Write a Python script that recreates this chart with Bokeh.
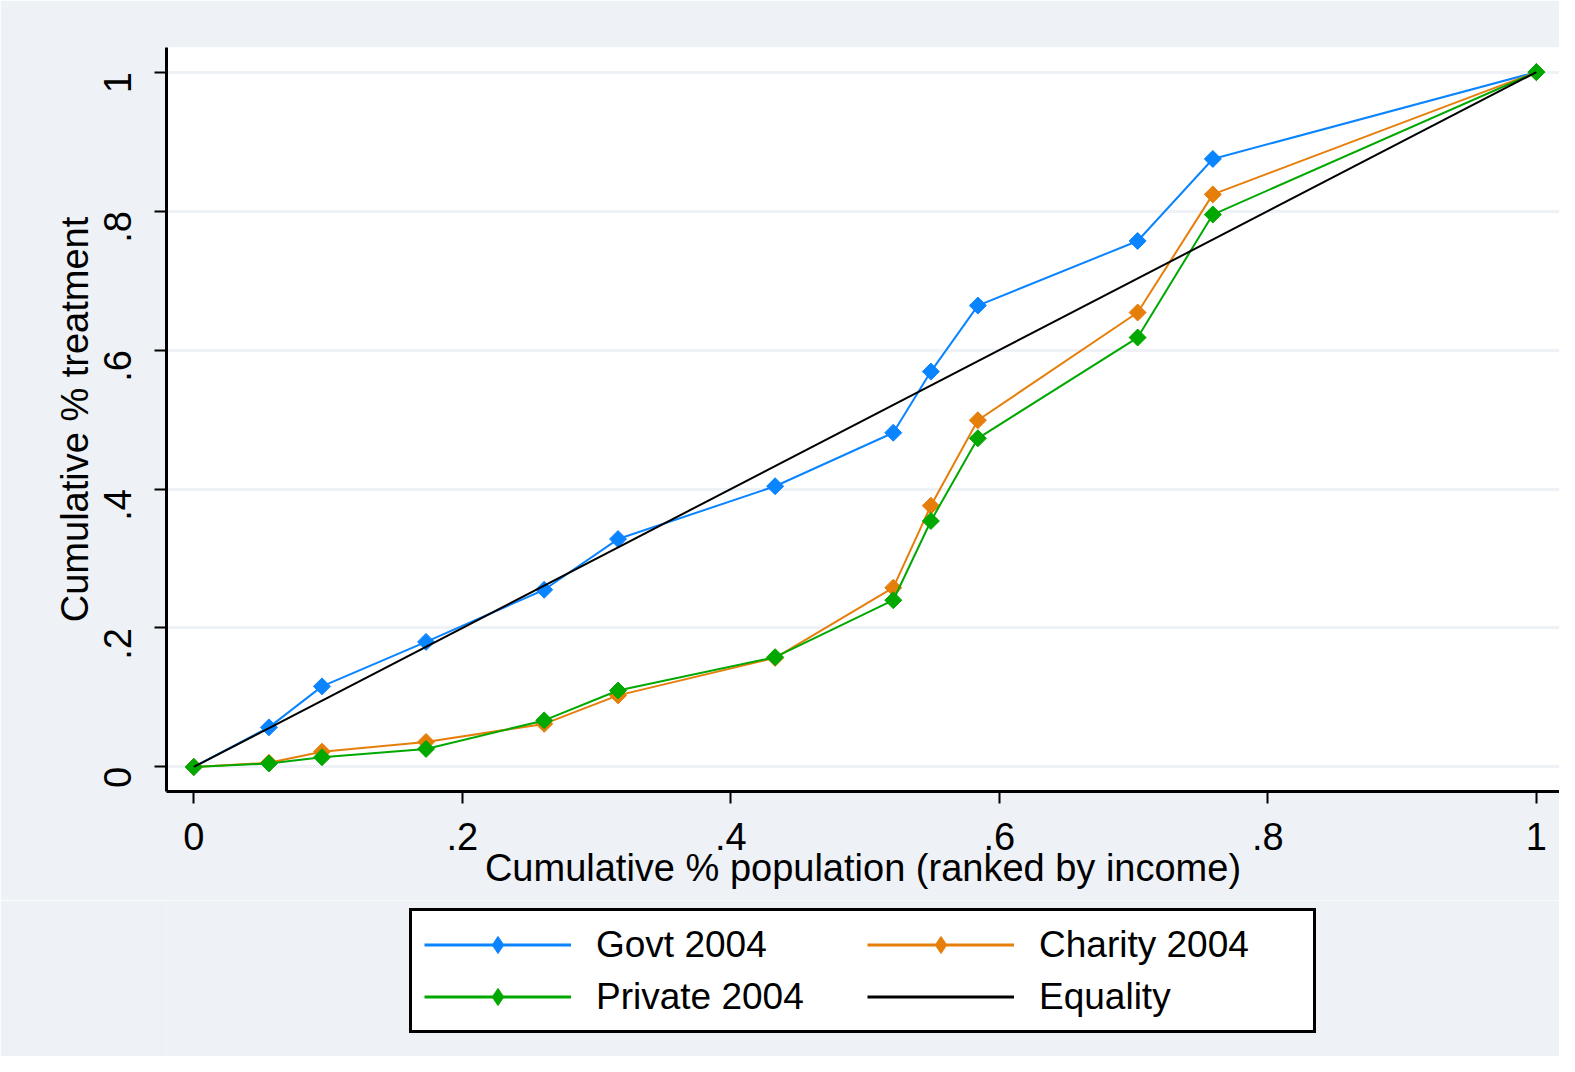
import math
from bokeh.plotting import figure
from bokeh.layouts import column
from bokeh.models import Legend, LegendItem, Range1d, FixedTicker
from bokeh.embed import file_html
from bokeh.resources import INLINE

# ---- data ----
pop_share = [0, 0.056, 0.0955, 0.173, 0.261, 0.316, 0.433, 0.521, 0.549, 0.584, 0.703, 0.759, 1.0]
govt_2004 = [0, 0.057, 0.116, 0.180, 0.255, 0.328, 0.404, 0.481, 0.569, 0.664, 0.757, 0.875, 1.0]
charity_2004 = [0, 0.006, 0.022, 0.036, 0.062, 0.103, 0.157, 0.258, 0.376, 0.499, 0.654, 0.824, 1.0]
private_2004 = [0, 0.005, 0.014, 0.026, 0.067, 0.110, 0.158, 0.240, 0.354, 0.473, 0.618, 0.795, 1.0]
equality_x = [0, 1]
equality_y = [0, 1]

tick_values = [0, 0.2, 0.4, 0.6, 0.8, 1]
tick_labels = ["0", ".2", ".4", ".6", ".8", "1"]

series_names = ["Govt 2004", "Charity 2004", "Private 2004", "Equality"]
series_colors = ["#0A84FF", "#E67E0A", "#00A800", "#000000"]

BG = "#EEF1F6"
FONT = "Liberation Sans"

# ---------------- main plot ----------------
p = figure(width=1559, height=900, output_backend="svg", toolbar_location=None,
           x_range=Range1d(-0.0203, 1.0172), y_range=Range1d(-0.0353, 1.0354),
           background_fill_color="white", border_fill_color=BG,
           min_border_left=166, min_border_top=47, min_border_right=0, min_border_bottom=109)
p.outline_line_color = None

for ax in (p.xaxis[0], p.yaxis[0]):
    ax.ticker = FixedTicker(ticks=tick_values)
    ax.major_label_overrides = dict(zip(tick_values, tick_labels))
    ax.minor_tick_line_color = None
    ax.axis_line_width = 3
    ax.axis_line_color = "black"
    ax.major_tick_line_width = 2
    ax.major_tick_in = 0
    ax.major_tick_out = 12
    ax.major_label_text_font = FONT
    ax.major_label_text_font_size = "38px"
    ax.major_label_text_color = "black"
    ax.axis_label_text_font = FONT
    ax.axis_label_text_font_size = "38px"
    ax.axis_label_text_font_style = "normal"
    ax.axis_label_text_color = "black"

p.xaxis.axis_label = "Cumulative % population (ranked by income)"
p.yaxis.axis_label = "Cumulative % treatment"
p.xaxis.major_label_standoff = 19
p.xaxis.axis_label_standoff = -6
p.yaxis.major_label_orientation = math.pi / 2
p.yaxis.major_label_standoff = 37
p.yaxis.axis_label_standoff = -8

p.xgrid.grid_line_color = None
p.ygrid.grid_line_color = BG
p.ygrid.grid_line_width = 3
p.ygrid.ticker = FixedTicker(ticks=tick_values)

series_values = [govt_2004, charity_2004, private_2004]
for col, ys in zip(series_colors[:3], series_values):
    p.line(pop_share, ys, line_color=col, line_width=2)
    p.scatter(pop_share, ys, marker="square", angle=math.pi / 4, size=12,
              fill_color=col, line_color=col)
p.line(equality_x, equality_y, line_color=series_colors[3], line_width=2)

# ---------------- legend strip ----------------
# the same series are attached here only so the legend can draw their keys;
# the ranges lie outside the data, so nothing shows in this strip itself
lg = figure(width=1559, height=156, output_backend="svg", toolbar_location=None,
            x_range=Range1d(5, 6), y_range=Range1d(5, 6),
            background_fill_color=BG, border_fill_color=BG,
            min_border_left=0, min_border_right=0, min_border_top=0, min_border_bottom=0)
lg.axis.visible = False
lg.grid.visible = False
lg.outline_line_color = None

items = {}
for name, col, ys in zip(series_names[:3], series_colors[:3], series_values):
    ln = lg.line(pop_share, ys, line_color=col, line_width=3)
    sc = lg.scatter(pop_share, ys, marker="diamond", size=20, fill_color=col, line_color=col)
    items[name] = LegendItem(label=name, renderers=[ln, sc])
eq = lg.line(equality_x, equality_y, line_color=series_colors[3], line_width=3)
items[series_names[3]] = LegendItem(label=series_names[3], renderers=[eq])

legend = Legend(items=[items[n] for n in series_names], ncols=2, orientation="horizontal",
                location=(243, 23),
                label_text_font=FONT, label_text_font_size="37px", label_text_color="black",
                glyph_width=147, glyph_height=43, label_height=43, label_width=262,
                label_standoff=25, spacing=9, padding=12, margin=0,
                border_line_color="black", border_line_width=3, border_line_alpha=1.0,
                background_fill_color="white", background_fill_alpha=1.0)
lg.add_layout(legend, "center")

page = column(p, lg, spacing=0)
open("out.html", "w").write(file_html(page, INLINE))
